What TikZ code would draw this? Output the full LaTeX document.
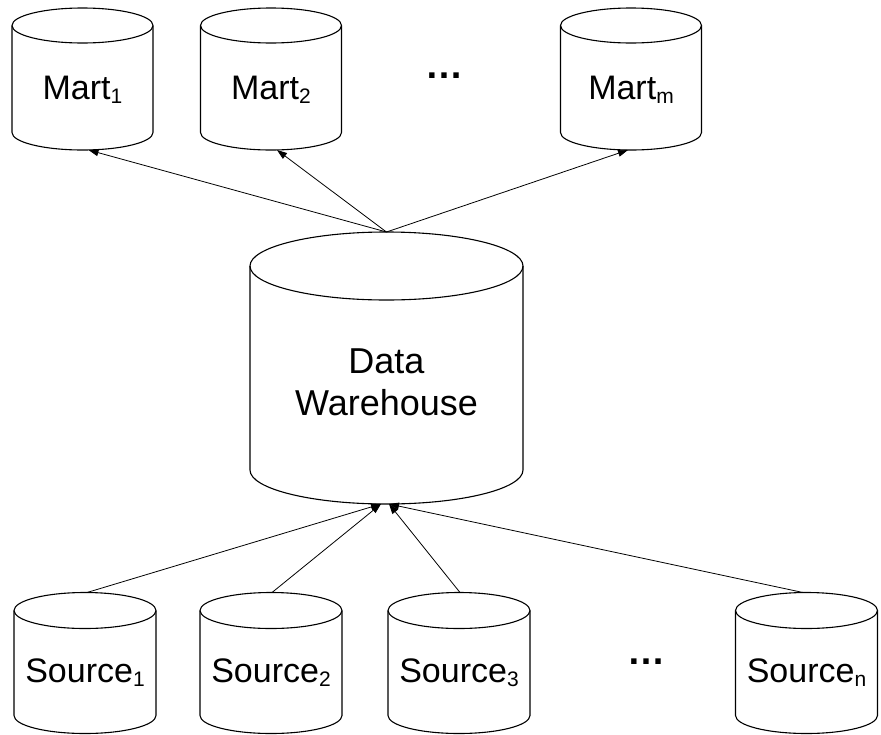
\documentclass[tikz,border=0pt]{standalone}
\usepackage{fontspec}
\setmainfont{Liberation Sans}
\usetikzlibrary{arrows.meta}

% lowered small index, e.g. Mart_1
\newcommand\lowidx[1]{\raisebox{-4pt}{\fontsize{21}{21}\selectfont #1}}
% two centred lines with a fixed line distance; baseline on the last line
\newcommand\twolines[2]{\vbox{\baselineskip=42pt
  \hbox to 0pt{\hss #1\hss}\hbox to 0pt{\hss #2\hss}}}
% cylinder outline round a named node: #1 name, #2 half width, #3 ellipse y radius
\newcommand\drawcyl[3]{%
  \draw[cylline] ([yshift=-#3]#1.north west) -- ([yshift=#3]#1.south west)
    arc[start angle=180, end angle=360, x radius=#2, y radius=#3]
    -- ([yshift=-#3]#1.north east);
  \draw[cylline] ([yshift=-#3]#1.north) ellipse[x radius=#2, y radius=#3];
}

\begin{document}
\begin{tikzpicture}[x=1pt,y=-1pt,
  cylline/.style={line width=1.1pt, black},
  store/.style={rectangle, inner sep=0pt, outer sep=0pt,
    font=\fontsize{34}{40}\selectfont},
  mart/.style={store, minimum width=141pt, minimum height=142pt,
    text height=40pt, text depth=0pt},
  source/.style={store, minimum width=142pt, minimum height=141pt,
    text height=38.6pt, text depth=0pt},
  warehouse/.style={store, minimum width=273pt, minimum height=272pt,
    text height=94pt, text depth=0pt, font=\fontsize{36}{42}\selectfont},
  dots/.style={font=\bfseries\fontsize{38}{40}\selectfont, inner sep=0pt,
    anchor=base},
  flow/.style={line width=0.8pt, -{Triangle[length=10pt,width=7pt]}}]

\fill[white] (0,0) rectangle (881,734);
\useasboundingbox (0,0) rectangle (881,734);

% data marts
\node[mart] (m1) at (82.5,79) {Mart\lowidx{1}};
\node[mart] (m2) at (271,79) {Mart\lowidx{2}};
\node[mart] (mm) at (631,79) {Mart\lowidx{m}};
\node[dots] (mdots) at (444,78) {…};

% central warehouse
\node[warehouse] (wh) at (386.5,368) {\twolines{Data}{Warehouse}};

% sources
\node[source] (s1) at (85,663) {Source\lowidx{1}};
\node[source] (s2) at (271,663) {Source\lowidx{2}};
\node[source] (s3) at (459,663) {Source\lowidx{3}};
\node[source] (sn) at (806.5,663) {Source\lowidx{n}};
\node[dots] (sdots) at (646.5,664) {…};

\drawcyl{m1}{70.5pt}{17.5pt}
\drawcyl{m2}{70.5pt}{17.5pt}
\drawcyl{mm}{70.5pt}{17.5pt}
\drawcyl{wh}{136.5pt}{34pt}
\drawcyl{s1}{71pt}{18pt}
\drawcyl{s2}{71pt}{18pt}
\drawcyl{s3}{71pt}{18pt}
\drawcyl{sn}{71pt}{18pt}

% warehouse feeds the marts
\draw[flow] (wh.north) -- ([xshift=6pt]m1.south);
\draw[flow] (wh.north) -- ([xshift=6pt]m2.south);
\draw[flow] (wh.north) -- ([xshift=-3pt]mm.south);

% sources load the warehouse
\draw[flow] ([xshift=2pt]s1.north) -- ([xshift=-5.5pt]wh.south);
\draw[flow] ([xshift=1pt]s2.north) -- ([xshift=-5.5pt]wh.south);
\draw[flow] ([xshift=1pt]s3.north) -- ([xshift=2.5pt]wh.south);
\draw[flow] ([xshift=-3.5pt]sn.north) -- ([xshift=2.5pt]wh.south);
\end{tikzpicture}
\end{document}
